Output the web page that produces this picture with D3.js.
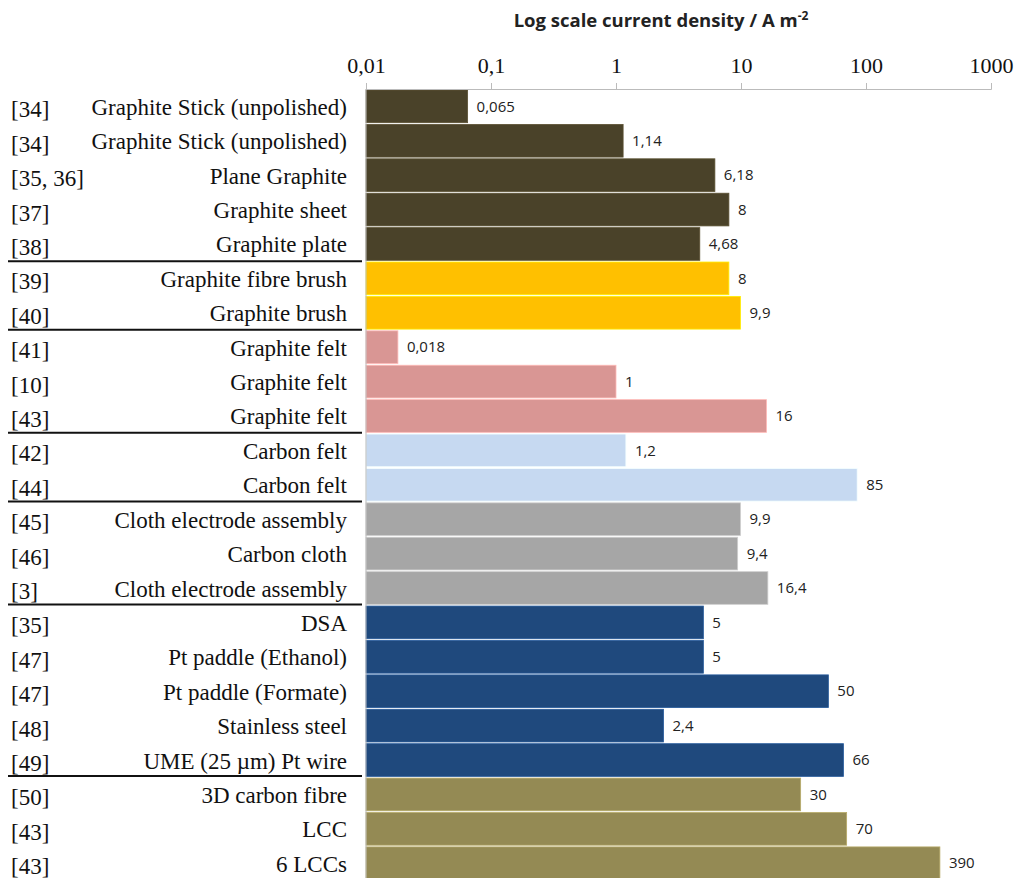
<!DOCTYPE html>
<html>
<head>
<meta charset="utf-8">
<script src="https://cdn.jsdelivr.net/npm/d3@7"></script>
<style>
  body { margin: 0; background: #fff; }
  .tick text { font-family: "Liberation Serif", "Times New Roman", serif; }
</style>
</head>
<body>
<svg id="chart" width="1017" height="878"></svg>
<script>
// chart data
var refs = ["[34]", "[34]", "[35, 36]", "[37]", "[38]",
  "[39]", "[40]",
  "[41]", "[10]", "[43]",
  "[42]", "[44]",
  "[45]", "[46]", "[3]",
  "[35]", "[47]", "[47]", "[48]", "[49]",
  "[50]", "[43]", "[43]"];
var categories = ["Graphite Stick (unpolished)", "Graphite Stick (unpolished)", "Plane Graphite", "Graphite sheet", "Graphite plate",
  "Graphite fibre brush", "Graphite brush",
  "Graphite felt", "Graphite felt", "Graphite felt",
  "Carbon felt", "Carbon felt",
  "Cloth electrode assembly", "Carbon cloth", "Cloth electrode assembly",
  "DSA", "Pt paddle (Ethanol)", "Pt paddle (Formate)", "Stainless steel", "UME (25 \u00b5m) Pt wire",
  "3D carbon fibre", "LCC", "6 LCCs"];
var values = [0.065, 1.14, 6.18, 8, 4.68,
  8, 9.9,
  0.018, 1, 16,
  1.2, 85,
  9.9, 9.4, 16.4,
  5, 5, 50, 2.4, 66,
  30, 70, 390];
var groupSizes = [5, 2, 3, 2, 3, 5, 3];
var groupColors = ["#4a4229", "#ffc000", "#d99694", "#c6d9f1", "#a6a6a6", "#1f497d", "#948a54"];
var tickValues = [0.01, 0.1, 1, 10, 100, 1000];
var tickLabels = ["0,01", "0,1", "1", "10", "100", "1000"];

// group index per bar
var groupOf = [];
groupSizes.forEach(function(n, g) { for (var i = 0; i < n; i++) groupOf.push(g); });

var svg = d3.select('#chart');
var rowH = 34.33;
var topY = 90;

var x = d3.scaleLog().domain([0.01, 1000]).range([366, 991]);
var y = d3.scaleBand()
  .domain(d3.range(values.length))
  .range([topY, topY + rowH * values.length])
  .paddingInner(0.05);

// bars
svg.append('g').selectAll('rect')
  .data(values)
  .enter()
  .append('rect')
  .attr('x', x(0.01))
  .attr('y', (d, i) => y(i))
  .attr('width', d => x(d) - x(0.01))
  .attr('height', y.bandwidth())
  .style('fill', (d, i) => groupColors[groupOf[i]])
  .style('stroke', (d, i) => d3.color(groupColors[groupOf[i]]).brighter(0.6))
  .style('stroke-width', 0.8);

// value labels
svg.append('g').selectAll('text')
  .data(values)
  .enter()
  .append('text')
  .attr('x', d => x(d) + 9)
  .attr('y', (d, i) => y(i) + y.bandwidth() / 2)
  .attr('dy', '0.35em')
  .style('font-family', '"Open Sans", sans-serif')
  .style('font-size', '15px')
  .style('fill', '#222')
  .text(d => String(d).replace('.', ','));

// category labels
svg.append('g').selectAll('text')
  .data(categories)
  .enter()
  .append('text')
  .attr('x', 347)
  .attr('y', (d, i) => y(i) + y.bandwidth() / 2)
  .attr('dy', '0.37em')
  .attr('text-anchor', 'end')
  .style('font-family', '"Liberation Serif", "Times New Roman", serif')
  .style('font-size', '23px')
  .style('fill', '#111')
  .text(d => d);

// reference labels
svg.append('g').selectAll('text')
  .data(refs)
  .enter()
  .append('text')
  .attr('x', 11)
  .attr('y', (d, i) => y(i) + y.bandwidth() / 2)
  .attr('dy', '0.48em')
  .style('font-family', '"Liberation Serif", "Times New Roman", serif')
  .style('font-size', '23px')
  .style('fill', '#111')
  .text(d => d);

// group separators
var ends = d3.cumsum(groupSizes).slice(0, -1);
svg.append('g').selectAll('line')
  .data(ends)
  .enter()
  .append('line')
  .attr('x1', 8)
  .attr('x2', 362)
  .attr('y1', d => topY + d * rowH - 0.5)
  .attr('y2', d => topY + d * rowH - 0.5)
  .style('stroke', '#111')
  .style('stroke-width', 2);

// category axis line
svg.append('line')
  .attr('x1', x(0.01)).attr('x2', x(0.01))
  .attr('y1', 89).attr('y2', 878)
  .style('stroke', '#bbb');

// value axis
var axis = svg.append('g')
  .attr('transform', 'translate(0,89)')
  .call(d3.axisTop(x)
    .tickValues(tickValues)
    .tickFormat((d, i) => tickLabels[i])
    .tickSize(6)
    .tickPadding(10));
axis.select('.domain').style('stroke', '#bbb');
axis.selectAll('.tick line').style('stroke', '#bbb');
axis.selectAll('.tick text')
  .style('font-size', '22px')
  .style('fill', '#111');

// title
var title = svg.append('text')
  .attr('x', 661)
  .attr('y', 27)
  .attr('text-anchor', 'middle')
  .style('font-family', '"Open Sans", sans-serif')
  .style('font-weight', 'bold')
  .style('font-size', '18.5px')
  .style('fill', '#222');
title.append('tspan').text('Log scale current density / A m');
title.append('tspan').attr('dy', -7).style('font-size', '12px').text('-2');
</script>
</body>
</html>
